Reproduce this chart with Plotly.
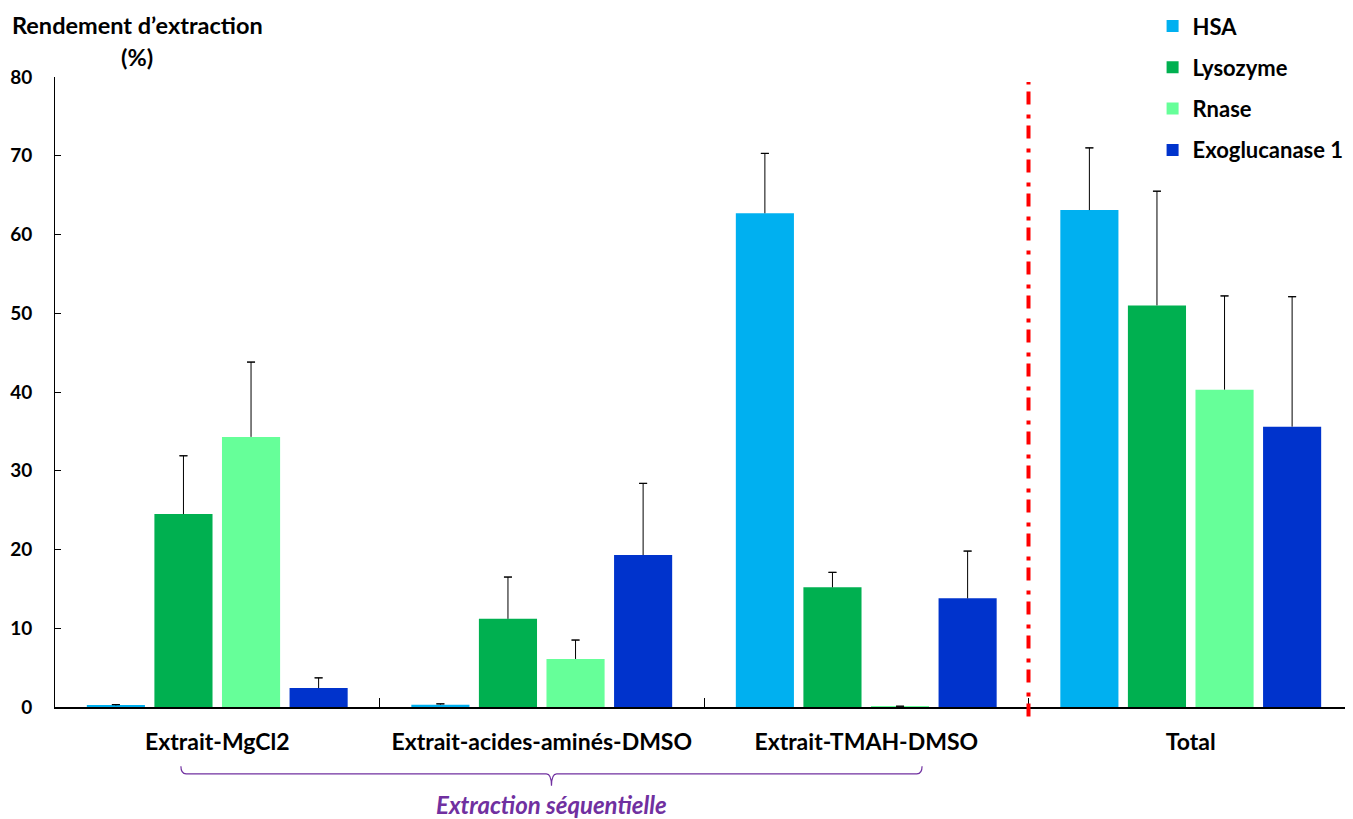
import plotly.graph_objects as go

categories = ["Extrait-MgCl2", "Extrait-acides-aminés-DMSO", "Extrait-TMAH-DMSO", "Total"]
series_names = ["HSA", "Lysozyme", "Rnase", "Exoglucanase 1"]
hsa = [0.2, 0.3, 62.7, 63.1]
hsa_err = [0.1, 0.1, 7.6, 7.9]
lysozyme = [24.5, 11.2, 15.2, 51.0]
lysozyme_err = [7.4, 5.3, 1.9, 14.5]
rnase = [34.3, 6.1, 0.1, 40.3]
rnase_err = [9.5, 2.4, 0.0, 11.9]
exo = [2.4, 19.3, 13.8, 35.6]
exo_err = [1.3, 9.1, 6.0, 16.5]
y_ticks = [0, 10, 20, 30, 40, 50, 60, 70, 80]

colors = ["#00B0F0", "#00B050", "#66FF99", "#0033CC"]
values = [hsa, lysozyme, rnase, exo]
errors = [hsa_err, lysozyme_err, rnase_err, exo_err]

FONT = "Lato"
fig = go.Figure()
for name, v, e, c in zip(series_names, values, errors, colors):
    # main bar with the upward error stem (no caps)
    fig.add_trace(go.Bar(
        x=categories, y=v, name=name, marker=dict(color=c, line=dict(width=0)),
        legendgroup=name, offsetgroup=name,
        error_y=dict(type="data", array=e, arrayminus=[0] * len(e), symmetric=False,
                     color="black", thickness=1, width=0),
    ))
    # transparent companion bar carrying only the top cap of the error bar
    fig.add_trace(go.Bar(
        x=categories, y=[a + b for a, b in zip(v, e)], name=name + " cap",
        marker=dict(color="rgba(0,0,0,0)", line=dict(width=0)),
        legendgroup=name, offsetgroup=name, showlegend=False, hoverinfo="skip",
        error_y=dict(type="data", array=[0] * len(e), color="black", thickness=1, width=4),
    ))

n_cat = len(categories)
def xp(idx):
    # category index -> paper x
    return (idx + 0.5) / n_cat

# red dash-dot separator between sequential extraction and total
fig.add_shape(type="line", xref="paper", yref="paper",
              x0=xp(2.5), x1=xp(2.5), y0=-0.015, y1=0.992,
              line=dict(color="#FF0000", width=4, dash="13px,7px,4px,10px"))

# brace under the three sequential extraction categories
bx0, bx1 = xp(-0.112), xp(2.172)
bxm = (bx0 + bx1) / 2
yt, yb, ym = -0.094, -0.106, -0.125
path = (f"M {bx0},{yt} Q {bx0},{yb} {bx0+0.004},{yb} L {bxm-0.004},{yb} "
        f"Q {bxm},{yb} {bxm},{ym} Q {bxm},{yb} {bxm+0.004},{yb} "
        f"L {bx1-0.004},{yb} Q {bx1},{yb} {bx1},{yt}")
fig.add_shape(type="path", xref="paper", yref="paper", path=path,
              line=dict(color="#7030A0", width=1.2))

fig.add_annotation(xref="paper", yref="paper", x=bxm, y=-0.155, xanchor="center",
                   yanchor="middle", text="<i>Extraction séquentielle</i>", showarrow=False,
                   font=dict(family=FONT, size=24, color="#7030A0", weight="bold"))

fig.add_annotation(xref="paper", yref="paper", x=0.0632, y=1.0825, xanchor="center",
                   yanchor="middle", text="Rendement d’extraction", showarrow=False,
                   font=dict(family=FONT, size=23.5, color="black", weight="bold"))
fig.add_annotation(xref="paper", yref="paper", x=0.0632, y=1.0317, xanchor="center",
                   yanchor="middle", text="(%)", showarrow=False,
                   font=dict(family=FONT, size=23.5, color="black", weight="bold"))

fig.update_layout(
    width=1345, height=811,
    margin=dict(l=47, r=0, t=69, b=112, autoexpand=False),
    paper_bgcolor="white", plot_bgcolor="white",
    barmode="group", bargap=0.167, bargroupgap=0.14,
    font=dict(family=FONT, size=19, color="black"),
    showlegend=True,
    legend=dict(x=0.8456, y=1.114, xanchor="left", yanchor="top",
                font=dict(family=FONT, size=22, color="black", weight="bold"),
                tracegroupgap=9.7, traceorder="grouped", bgcolor="rgba(0,0,0,0)"),
    xaxis=dict(range=[-0.5, 3.5], showline=True, linecolor="black", linewidth=1.5,
               ticks="inside", ticklen=9, tickcolor="black", tickson="boundaries",
               tickfont=dict(family=FONT, size=23, color="black", weight="bold"),
               ticklabelstandoff=14, automargin=False,
               showgrid=False, zeroline=False),
    yaxis=dict(range=[0, 80], tickvals=y_ticks, showline=True, linecolor="black",
               linewidth=1, ticks="inside", ticklen=6, tickcolor="black",
               tickfont=dict(family=FONT, size=19, color="black", weight="bold"),
               ticklabelstandoff=18, automargin=False,
               showgrid=False, zeroline=False),
)

fig.write_html("out.html")
